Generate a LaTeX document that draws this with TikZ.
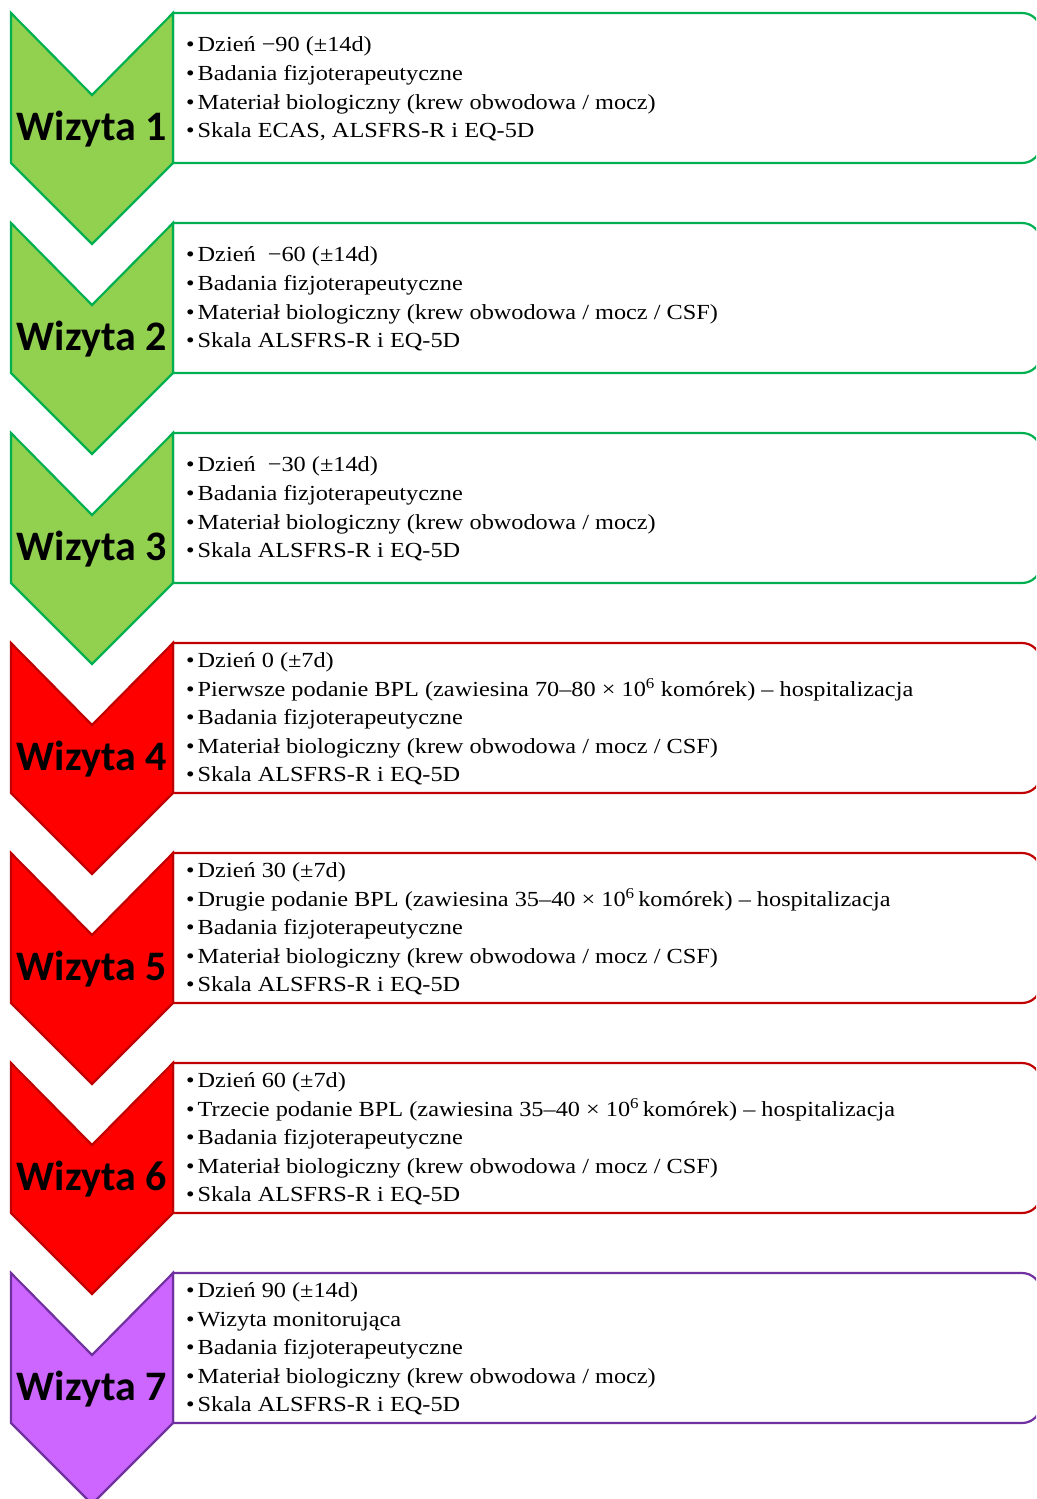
\documentclass[tikz,border=0pt]{standalone}
\usepackage{fontspec}
\setmainfont{Liberation Serif}
\newfontfamily\opisfont[FakeStretch=1.13]{Liberation Serif}
\newfontfamily\calibri{Carlito}
\newcommand{\pkt}{\makebox[11.5pt][l]{\textbullet}}

\begin{document}
\begin{tikzpicture}[x=1pt,y=-1pt]
    \definecolor{zielonyfill}{HTML}{92D050}
    \definecolor{zielony}{HTML}{00B050}
    \definecolor{czerwonyfill}{HTML}{FF0000}
    \definecolor{czerwony}{HTML}{C00000}
    \definecolor{fioletfill}{HTML}{CC66FF}
    \definecolor{fiolet}{HTML}{7030A0}

    \useasboundingbox (0,0) rectangle (1036,1499);
    \clip (0,0) rectangle (1036,1499);

    \tikzstyle{every node}=[inner sep=0pt]
    \tikzstyle{wizyta}=[font=\calibri\bfseries\fontsize{42}{42}\selectfont, anchor=base]
    \tikzstyle{opis}=[font=\opisfont\fontsize{21.5}{28.6}\selectfont, align=left, anchor=west]

    % wizyty 1-3
    \tikzstyle{ramka}=[draw=zielony, line width=2.2pt, fill=white]
    \tikzstyle{strzalka}=[draw=zielony, line width=2.2pt, fill=zielonyfill, line join=miter]

    \draw[ramka] (173,13) [rounded corners=19] -- (1041,13) -- (1041,163) [sharp corners] -- (173,163) -- cycle;
    \draw[strzalka] (11,13) -- (92,95) -- (173,13) -- (173,163) -- (92,244) -- (11,163) -- cycle;
    \node[wizyta] (w1) at (92,140) {Wizyta 1};
    \node[opis] (o1) at (186,89) {\pkt Dzień −90 (±14d)\\\pkt Badania fizjoterapeutyczne\\\pkt Materiał biologiczny (krew obwodowa / mocz)\\\pkt Skala ECAS, ALSFRS-R i EQ-5D};

    \draw[ramka] (173,223) [rounded corners=19] -- (1041,223) -- (1041,373) [sharp corners] -- (173,373) -- cycle;
    \draw[strzalka] (11,223) -- (92,305) -- (173,223) -- (173,373) -- (92,454) -- (11,373) -- cycle;
    \node[wizyta] (w2) at (92,350) {Wizyta 2};
    \node[opis] (o2) at (186,299) {\pkt Dzień\ \ −60 (±14d)\\\pkt Badania fizjoterapeutyczne\\\pkt Materiał biologiczny (krew obwodowa / mocz / CSF)\\\pkt Skala ALSFRS-R i EQ-5D};

    \draw[ramka] (173,433) [rounded corners=19] -- (1041,433) -- (1041,583) [sharp corners] -- (173,583) -- cycle;
    \draw[strzalka] (11,433) -- (92,515) -- (173,433) -- (173,583) -- (92,664) -- (11,583) -- cycle;
    \node[wizyta] (w3) at (92,560) {Wizyta 3};
    \node[opis] (o3) at (186,509) {\pkt Dzień\ \ −30 (±14d)\\\pkt Badania fizjoterapeutyczne\\\pkt Materiał biologiczny (krew obwodowa / mocz)\\\pkt Skala ALSFRS-R i EQ-5D};

    % wizyty 4-6
    \tikzstyle{ramka}=[draw=czerwony, line width=2.2pt, fill=white]
    \tikzstyle{strzalka}=[draw=czerwony, line width=2.2pt, fill=czerwonyfill, line join=miter]

    \draw[ramka] (173,643) [rounded corners=19] -- (1041,643) -- (1041,793) [sharp corners] -- (173,793) -- cycle;
    \draw[strzalka] (11,643) -- (92,725) -- (173,643) -- (173,793) -- (92,874) -- (11,793) -- cycle;
    \node[wizyta] (w4) at (92,770) {Wizyta 4};
    \node[opis] (o4) at (186,719) {\pkt Dzień 0 (±7d)\\\pkt Pierwsze podanie BPL (zawiesina 70–80 × 10\textsuperscript{6} komórek) – hospitalizacja\\\pkt Badania fizjoterapeutyczne\\\pkt Materiał biologiczny (krew obwodowa / mocz / CSF)\\\pkt Skala ALSFRS-R i EQ-5D};

    \draw[ramka] (173,853) [rounded corners=19] -- (1041,853) -- (1041,1003) [sharp corners] -- (173,1003) -- cycle;
    \draw[strzalka] (11,853) -- (92,935) -- (173,853) -- (173,1003) -- (92,1084) -- (11,1003) -- cycle;
    \node[wizyta] (w5) at (92,980) {Wizyta 5};
    \node[opis] (o5) at (186,929) {\pkt Dzień 30 (±7d)\\\pkt Drugie podanie BPL (zawiesina 35–40 × 10\textsuperscript{6}\,komórek) – hospitalizacja\\\pkt Badania fizjoterapeutyczne\\\pkt Materiał biologiczny (krew obwodowa / mocz / CSF)\\\pkt Skala ALSFRS-R i EQ-5D};

    \draw[ramka] (173,1063) [rounded corners=19] -- (1041,1063) -- (1041,1213) [sharp corners] -- (173,1213) -- cycle;
    \draw[strzalka] (11,1063) -- (92,1145) -- (173,1063) -- (173,1213) -- (92,1294) -- (11,1213) -- cycle;
    \node[wizyta] (w6) at (92,1190) {Wizyta 6};
    \node[opis] (o6) at (186,1139) {\pkt Dzień 60 (±7d)\\\pkt Trzecie podanie BPL (zawiesina 35–40 × 10\textsuperscript{6}\,komórek) – hospitalizacja\\\pkt Badania fizjoterapeutyczne\\\pkt Materiał biologiczny (krew obwodowa / mocz / CSF)\\\pkt Skala ALSFRS-R i EQ-5D};

    % wizyta 7
    \tikzstyle{ramka}=[draw=fiolet, line width=2.2pt, fill=white]
    \tikzstyle{strzalka}=[draw=fiolet, line width=2.2pt, fill=fioletfill, line join=miter]

    \draw[ramka] (173,1273) [rounded corners=19] -- (1041,1273) -- (1041,1423) [sharp corners] -- (173,1423) -- cycle;
    \draw[strzalka] (11,1273) -- (92,1355) -- (173,1273) -- (173,1423) -- (92,1504) -- (11,1423) -- cycle;
    \node[wizyta] (w7) at (92,1400) {Wizyta 7};
    \node[opis] (o7) at (186,1349) {\pkt Dzień 90 (±14d)\\\pkt Wizyta monitorująca\\\pkt Badania fizjoterapeutyczne\\\pkt Materiał biologiczny (krew obwodowa / mocz)\\\pkt Skala ALSFRS-R i EQ-5D};
\end{tikzpicture}
\end{document}
